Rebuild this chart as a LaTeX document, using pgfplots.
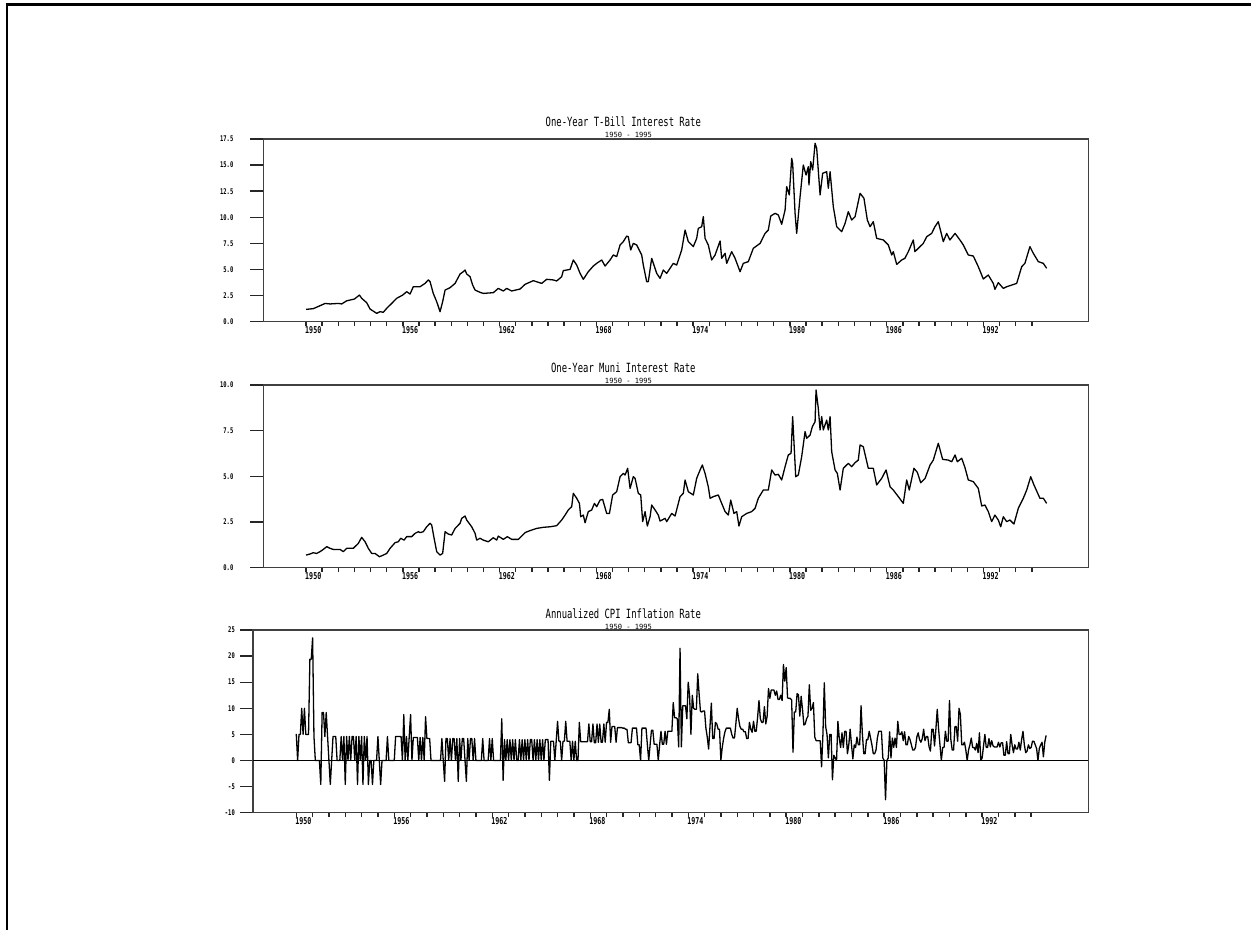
\documentclass[border=0pt]{standalone}
\usepackage{fontspec}
\usepackage{pgfplots}
\pgfplotsset{compat=1.18}
\usepackage{pgfplotstable}
\newfontfamily\titlefont[FakeStretch=0.7]{DejaVu Sans Mono}
\newfontfamily\subfont{DejaVu Sans Mono}
\newfontfamily\tickfont[FakeStretch=0.7]{DejaVu Sans Mono Bold}

\pgfplotstableread[row sep=\\]{
v\\
5.1\\0\\5.0\\5.0\\10.0\\5.0\\10.0\\5.0\\5.0\\5.0\\19.4\\19.4\\
23.5\\4.6\\0\\0\\0\\0\\-4.6\\9.2\\9.2\\4.6\\9.2\\4.6\\
0\\-4.6\\0\\4.6\\4.6\\4.6\\0\\0\\0\\4.6\\0\\4.6\\
-4.6\\4.6\\0\\4.6\\0\\4.6\\4.6\\0\\4.6\\-4.6\\4.6\\0\\
4.6\\-4.6\\4.6\\0\\4.6\\-4.6\\0\\0\\-4.6\\0\\0\\0\\
4.6\\0\\-4.6\\0\\0\\0\\0\\4.6\\0\\0\\0\\0\\
0\\4.6\\4.6\\4.6\\4.6\\4.6\\0\\8.8\\0\\4.6\\0\\4.6\\
8.8\\0\\4.4\\4.4\\4.4\\4.4\\0\\4.4\\0\\4.4\\0\\8.4\\
4.2\\4.2\\4.2\\0\\0\\0\\0\\0\\0\\0\\0\\4.2\\
0\\-4.0\\4.2\\4.2\\0\\4.2\\0\\4.2\\4.2\\0\\4.2\\-4.0\\
4.2\\0\\4.2\\4.2\\0\\-4.0\\4.2\\0\\4.2\\4.2\\0\\4.2\\
0\\0\\0\\0\\0\\4.2\\0\\0\\0\\0\\4.2\\0\\
4.2\\0\\0\\0\\0\\0\\0\\8.0\\-3.8\\4.0\\0\\4.0\\
0\\4.0\\0\\4.0\\0\\4.0\\0\\0\\4.0\\0\\4.0\\0\\
4.0\\0\\4.0\\0\\4.0\\4.0\\0\\4.0\\0\\4.0\\0\\4.0\\
0\\4.0\\0\\4.0\\4.0\\4.0\\-3.8\\3.7\\3.7\\3.7\\0\\3.7\\
7.5\\3.7\\3.7\\0\\3.7\\3.7\\7.5\\3.7\\3.7\\3.7\\0\\3.7\\
0\\3.7\\0\\0\\7.3\\3.6\\3.6\\3.6\\3.6\\3.6\\3.6\\7.0\\
3.6\\3.6\\7.0\\3.4\\3.4\\7.0\\3.5\\7.0\\3.5\\3.5\\7.0\\3.5\\
7.3\\7.3\\9.8\\3.5\\6.5\\6.5\\6.5\\3.5\\6.3\\6.3\\6.3\\6.3\\
6.2\\6.2\\6.0\\6.0\\3.4\\3.4\\3.4\\6.2\\6.2\\6.2\\6.2\\3.0\\
3.0\\0\\6.2\\6.2\\6.2\\6.2\\3.0\\0\\3.0\\5.8\\5.8\\3.1\\
3.1\\3.1\\0\\3.0\\5.6\\3.1\\3.1\\5.6\\3.1\\5.6\\5.6\\5.6\\
5.6\\11.1\\8.2\\8.2\\8.0\\2.6\\21.5\\2.6\\10.5\\10.5\\10.5\\8.0\\
15.0\\12.5\\5.0\\12.5\\10.0\\9.8\\9.8\\16.6\\12.8\\9.4\\9.3\\9.5\\
9.5\\6.2\\4.5\\2.2\\6.5\\11.0\\4.2\\4.2\\7.3\\7.0\\6.0\\6.0\\
0\\2.5\\4.2\\5.5\\6.2\\6.2\\6.2\\6.2\\5.0\\4.3\\4.3\\7.0\\
10.0\\8.0\\6.5\\6.0\\6.0\\5.5\\5.5\\4.2\\4.2\\7.3\\6.0\\5.4\\
7.5\\5.6\\5.6\\8.3\\11.5\\8.0\\7.3\\7.3\\10.3\\7.0\\8.5\\13.8\\
11.9\\13.5\\13.5\\13.5\\12.5\\13.3\\11.7\\11.7\\12.5\\11.5\\18.4\\15.2\\
17.8\\12.0\\11.9\\11.9\\11.6\\1.6\\9.3\\9.3\\12.8\\12.6\\8.5\\12.3\\
9.8\\6.8\\7.0\\8.0\\8.5\\14.5\\9.6\\10.0\\11.1\\4.5\\3.8\\3.8\\
3.8\\3.8\\-1.2\\5.0\\14.9\\6.5\\5.0\\0.5\\5.0\\5.0\\-3.7\\1.0\\
0.5\\0\\7.5\\4.2\\2.5\\5.3\\2.5\\5.6\\5.6\\1.3\\3.0\\6.0\\
3.0\\0.3\\3.0\\2.5\\4.5\\3.0\\3.0\\10.5\\5.0\\1.3\\1.3\\4.0\\
4.0\\5.6\\4.3\\3.0\\1.3\\1.3\\2.0\\4.3\\5.6\\5.6\\5.6\\0.5\\
0\\-7.5\\0\\0.5\\5.5\\0.5\\4.3\\2.5\\4.3\\2.5\\7.5\\5.0\\
5.0\\5.5\\3.8\\5.5\\3.0\\3.0\\4.6\\4.0\\3.0\\2.0\\2.0\\2.5\\
4.5\\5.3\\4.0\\3.5\\4.2\\6.0\\3.8\\4.6\\4.6\\2.6\\1.8\\6.0\\
6.0\\2.8\\6.0\\9.8\\6.0\\3.0\\0\\2.5\\2.5\\5.6\\3.7\\3.7\\
11.5\\4.0\\2.0\\2.0\\6.5\\6.5\\3.7\\10.0\\8.8\\3.0\\3.0\\3.5\\
2.0\\0\\2.0\\3.0\\4.3\\2.5\\2.5\\2.0\\3.3\\1.5\\5.3\\0\\
0.5\\2.8\\5.0\\2.5\\2.5\\4.2\\2.6\\3.8\\2.8\\2.6\\2.6\\2.6\\
3.5\\2.6\\3.4\\3.4\\1.0\\1.0\\3.6\\1.3\\1.3\\5.0\\3.0\\1.5\\
3.0\\2.2\\2.2\\3.5\\2.0\\4.0\\5.6\\3.0\\1.5\\1.8\\3.0\\2.3\\
2.5\\3.7\\3.7\\3.0\\2.3\\0\\2.3\\3.0\\3.5\\0.7\\3.5\\4.8\\
}\cpidata

\pgfplotsset{
  panel/.style={
    scale only axis,
    height=182.7pt,
    xmin=1947.35, xmax=1998.5,
    axis line style={black!75, line width=1.3pt},
    tick style={black!85, line width=1.4pt},
    tick align=outside,
    xtick pos=bottom, ytick pos=left,
    major tick length=13.5pt,
    minor tick length=4.5pt,
    xtick={1950,1956,1962,1968,1974,1980,1986,1992},
    xticklabels={1950,1956,1962,1968,1974,1980,1986,1992},
    minor xtick={1951,1952,1953,1954,1955,1957,1958,1959,1960,1961,1963,1964,1965,1966,1967,1969,1970,1971,1972,1973,1975,1976,1977,1978,1979,1981,1982,1983,1984,1985,1987,1988,1989,1990,1991,1993,1994,1995},
    xtick style={/pgfplots/major tick length=4.5pt},
    xticklabel style={font=\tickfont\fontsize{9.5}{10}\selectfont, anchor=north west, inner sep=0pt, xshift=-1pt, yshift=8.5pt},
    yticklabel style={font=\tickfont\fontsize{7.8}{8}\selectfont, anchor=east, inner sep=0pt, xshift=-16.3pt},
  },
  dat/.style={black, line width=1.3pt, mark=none, line join=round},
}

\begin{document}
\begin{tikzpicture}[x=1pt,y=1pt]
\useasboundingbox (0,0) rectangle (1251,930);
\draw[line width=2.4pt] (5.7,925.5) -- (1251,925.5);
\draw[line width=2.6pt] (7,926.7) -- (7,0);

% ---------- Top panel ----------
\begin{axis}[panel, at={(263.3pt,608.3pt)}, anchor=south west, width=825pt,
  ymin=0, ymax=17.5, ytick={0,2.5,5,7.5,10,12.5,15,17.5},
  yticklabels={0.0,2.5,5.0,7.5,10.0,12.5,15.0,17.5}]
\addplot[dat] coordinates {
(1950.00,1.18) (1950.45,1.25) (1950.97,1.60) (1951.18,1.75) (1951.49,1.70) (1952.00,1.75) (1952.21,1.70) (1952.52,2.00) (1953.00,2.17) (1953.31,2.55) (1953.45,2.24) (1953.76,1.82) (1953.97,1.21) (1954.38,0.80) (1954.59,0.96) (1954.79,0.90) (1955.00,1.28) (1955.31,1.75) (1955.62,2.24) (1955.99,2.55) (1956.24,2.87) (1956.45,2.65) (1956.65,3.35) (1957.07,3.35) (1957.38,3.67) (1957.58,4.00) (1957.69,3.83) (1957.89,2.70) (1958.10,1.92) (1958.31,0.96) (1958.47,1.92) (1958.62,3.03) (1958.93,3.26) (1959.24,3.67) (1959.55,4.57) (1959.75,4.79) (1959.86,4.95) (1959.96,4.57) (1960.17,4.31) (1960.33,3.51) (1960.48,3.03) (1960.79,2.81) (1960.99,2.71) (1961.61,2.78) (1961.92,3.19) (1962.23,2.94) (1962.44,3.19) (1962.75,2.94) (1963.27,3.13) (1963.58,3.58) (1964.09,3.93) (1964.61,3.67) (1964.92,4.06) (1965.33,4.00) (1965.54,3.90) (1965.85,4.31) (1965.95,4.89) (1966.37,5.01) (1966.57,5.91) (1966.78,5.43) (1966.99,4.63) (1967.19,4.06) (1967.50,4.79) (1967.81,5.33) (1968.02,5.59) (1968.33,5.91) (1968.54,5.33) (1968.85,5.91) (1969.05,6.39) (1969.26,6.23) (1969.47,7.35) (1969.67,7.67) (1969.88,8.20) (1969.98,8.14) (1970.13,6.87) (1970.29,7.50) (1970.50,7.35) (1970.81,6.39) (1970.91,5.43) (1971.12,3.83) (1971.22,3.83) (1971.43,6.07) (1971.74,4.63) (1971.95,4.15)
(1972.15,4.95) (1972.36,4.63) (1972.77,5.59) (1972.98,5.43) (1973.29,6.87) (1973.50,8.78) (1973.70,7.67) (1974.01,7.19) (1974.22,7.98) (1974.32,8.94) (1974.53,9.10) (1974.63,10.06) (1974.74,7.98) (1974.94,7.35) (1975.15,5.91) (1975.36,6.39) (1975.67,7.73) (1975.77,6.07) (1975.98,6.55) (1976.08,5.59) (1976.39,6.71) (1976.60,6.07) (1976.91,4.79) (1977.11,5.59) (1977.42,5.75) (1977.73,7.03) (1978.15,7.50) (1978.46,8.46) (1978.66,8.78) (1978.81,10.12) (1979.08,10.38) (1979.28,10.22) (1979.49,9.33) (1979.70,10.70) (1979.80,12.94) (1979.96,12.14) (1980.11,15.65) (1980.17,15.17) (1980.32,10.38) (1980.42,8.46) (1980.63,11.98) (1980.83,15.01) (1981.00,14.05) (1981.14,14.85) (1981.18,13.10) (1981.29,15.33) (1981.41,14.53) (1981.56,17.09) (1981.66,16.61) (1981.87,12.14) (1982.03,14.21) (1982.28,14.37) (1982.38,12.78) (1982.49,14.37) (1982.69,11.02) (1982.90,9.10) (1983.11,8.78) (1983.21,8.62) (1983.42,9.42) (1983.62,10.54) (1983.83,9.74) (1984.04,10.06) (1984.35,12.30) (1984.59,11.82) (1984.80,9.74) (1984.97,9.10) (1985.17,9.58) (1985.38,7.98) (1985.79,7.83) (1986.10,7.35) (1986.31,6.39) (1986.41,6.71) (1986.62,5.49) (1986.93,5.91) (1987.13,6.07) (1987.34,6.71) (1987.65,7.83) (1987.75,6.71) (1987.96,7.03) (1988.27,7.50) (1988.48,8.14) (1988.79,8.46) (1988.99,9.10) (1989.20,9.58) (1989.51,7.67) (1989.72,8.46) (1989.92,7.83) (1990.24,8.46) (1990.54,7.83) (1990.75,7.35) (1991.06,6.39) (1991.37,6.29) (1991.68,5.27) (1991.99,4.09) (1992.30,4.47) (1992.61,3.67) (1992.71,3.10) (1992.92,3.74) (1993.23,3.19) (1993.44,3.35) (1993.75,3.51) (1994.06,3.67) (1994.37,5.27) (1994.57,5.59) (1994.88,7.19) (1995.09,6.55) (1995.40,5.75) (1995.71,5.59) (1995.92,5.11)
};
\end{axis}
\node[font=\titlefont\fontsize{12.7}{13}\selectfont, inner sep=0pt, anchor=base] at (623.3,803.3) {One-Year T-Bill Interest Rate};
\node[font=\subfont\fontsize{7.1}{8}\selectfont, inner sep=0pt, anchor=base] at (628.5,792.3) {1950 - 1995};

% ---------- Middle panel ----------
\begin{axis}[panel, at={(263.3pt,362.3pt)}, anchor=south west, width=825pt,
  ymin=0, ymax=10, ytick={0,2.5,5,7.5,10},
  yticklabels={0.0,2.5,5.0,7.5,10.0}]
\addplot[dat] coordinates {
(1950.00,0.69) (1950.25,0.75) (1950.45,0.82) (1950.66,0.78) (1950.87,0.88) (1951.07,1.00) (1951.28,1.15) (1951.49,1.06) (1951.69,1.00) (1952.11,1.00) (1952.31,0.88) (1952.52,1.06) (1952.93,1.06) (1953.24,1.33) (1953.45,1.66) (1953.66,1.42) (1953.86,1.06) (1954.07,0.78) (1954.28,0.78) (1954.55,0.60) (1954.79,0.69) (1955.00,0.78) (1955.21,1.06) (1955.52,1.37) (1955.72,1.42) (1955.87,1.61) (1956.08,1.51) (1956.24,1.70) (1956.55,1.70) (1956.76,1.88) (1956.96,1.97) (1957.07,1.92) (1957.27,1.97) (1957.48,2.24) (1957.69,2.43) (1957.79,2.34) (1957.94,1.61) (1958.10,0.88) (1958.31,0.69) (1958.47,0.78) (1958.62,1.97) (1958.82,1.84) (1959.03,1.79) (1959.24,2.15) (1959.55,2.43) (1959.65,2.70) (1959.86,2.83) (1959.96,2.61) (1960.27,2.24) (1960.48,1.88) (1960.58,1.51) (1960.79,1.61) (1960.99,1.51) (1961.30,1.42) (1961.61,1.64) (1961.82,1.51) (1961.92,1.73) (1962.23,1.55) (1962.48,1.70) (1962.75,1.55) (1963.16,1.55) (1963.58,1.92) (1963.89,2.03) (1964.30,2.15) (1964.71,2.21) (1965.13,2.24) (1965.54,2.30) (1965.85,2.61) (1966.06,2.88) (1966.26,3.16) (1966.47,3.34) (1966.57,4.07) (1966.78,3.80) (1966.95,3.52) (1967.03,2.79) (1967.19,2.88) (1967.30,2.46) (1967.50,3.07) (1967.71,3.16) (1967.88,3.52) (1968.02,3.34) (1968.23,3.70) (1968.39,3.74) (1968.64,2.97) (1968.81,2.97) (1969.01,3.98) (1969.26,4.16) (1969.47,4.98) (1969.67,5.16) (1969.78,5.07) (1969.94,5.44) (1970.09,4.34) (1970.29,4.98) (1970.40,4.89) (1970.60,4.07) (1970.75,3.98) (1970.87,2.52) (1971.02,3.07) (1971.16,2.28) (1971.33,2.79) (1971.43,3.43) (1971.64,3.16) (1971.84,2.88) (1971.95,2.55)
(1972.26,2.70) (1972.36,2.52) (1972.67,2.97) (1972.88,2.83) (1973.19,3.89) (1973.39,4.07) (1973.50,4.80) (1973.70,4.16) (1974.01,3.98) (1974.22,4.89) (1974.43,5.35) (1974.57,5.62) (1974.74,5.16) (1974.94,4.43) (1975.05,3.80) (1975.25,3.89) (1975.56,3.98) (1975.77,3.52) (1975.98,3.07) (1976.18,2.88) (1976.33,3.70) (1976.53,2.97) (1976.70,3.07) (1976.84,2.28) (1977.01,2.79) (1977.32,2.97) (1977.63,3.07) (1977.84,3.25) (1978.04,3.80) (1978.35,4.25) (1978.66,4.25) (1978.87,5.35) (1979.08,5.07) (1979.28,5.11) (1979.49,4.80) (1979.70,5.53) (1979.90,6.17) (1980.07,6.26) (1980.17,8.27) (1980.36,4.98) (1980.52,5.07) (1980.73,6.08) (1980.94,7.45) (1981.04,7.08) (1981.25,7.26) (1981.39,7.72) (1981.56,7.99) (1981.62,9.73) (1981.76,8.72) (1981.87,7.54) (1981.97,8.27) (1982.07,7.54) (1982.28,8.08) (1982.38,7.54) (1982.49,8.27) (1982.59,6.35) (1982.80,5.35) (1982.94,5.16) (1983.11,4.25) (1983.31,5.44) (1983.62,5.71) (1983.83,5.53) (1984.04,5.75) (1984.24,5.89) (1984.35,6.72) (1984.55,6.62) (1984.86,5.44) (1985.17,5.44) (1985.38,4.53) (1985.69,4.89) (1985.96,5.35) (1986.21,4.43) (1986.41,4.25) (1986.72,3.89) (1987.03,3.52) (1987.24,4.80) (1987.40,4.25) (1987.69,5.44) (1987.90,5.22) (1988.11,4.65) (1988.38,4.89) (1988.69,5.62) (1988.89,5.89) (1989.20,6.81) (1989.47,5.93) (1989.82,5.89) (1990.03,5.80) (1990.24,6.17) (1990.38,5.80) (1990.65,5.99) (1990.85,5.49) (1991.06,4.80) (1991.37,4.71) (1991.68,4.34) (1991.89,3.38) (1992.09,3.43) (1992.30,3.07) (1992.51,2.52) (1992.71,2.88) (1992.92,2.61) (1993.07,2.24) (1993.23,2.79) (1993.44,2.52) (1993.64,2.61) (1993.89,2.39) (1994.16,3.25) (1994.47,3.80) (1994.68,4.25) (1994.93,4.98) (1995.13,4.53) (1995.50,3.80) (1995.71,3.80) (1995.92,3.52)
};
\end{axis}
\node[font=\titlefont\fontsize{12.7}{13}\selectfont, inner sep=0pt, anchor=base] at (623.3,557.3) {One-Year Muni Interest Rate};
\node[font=\subfont\fontsize{7.1}{8}\selectfont, inner sep=0pt, anchor=base] at (628.5,546.3) {1950 - 1995};

% ---------- Bottom panel ----------
\begin{axis}[panel, at={(253pt,117.3pt)}, anchor=south west, width=835.3pt,
  major tick length=13pt,
  yticklabel style={xshift=11.3pt},
  ymin=-10, ymax=25, ytick={-10,-5,0,5,10,15,20,25},
  yticklabels={-10,-5,0,5,10,15,20,25}]
\addplot[dat] coordinates {(1947.35,0) (1998.5,0)};
\addplot[dat] table[x expr={1950+\coordindex/12}, y=v] {\cpidata};
\end{axis}
\node[font=\titlefont\fontsize{12.7}{13}\selectfont, inner sep=0pt, anchor=base] at (623.3,311.6) {Annualized CPI Inflation Rate};
\node[font=\subfont\fontsize{7.1}{8}\selectfont, inner sep=0pt, anchor=base] at (628.5,300.6) {1950 - 1995};
\end{tikzpicture}
\end{document}
